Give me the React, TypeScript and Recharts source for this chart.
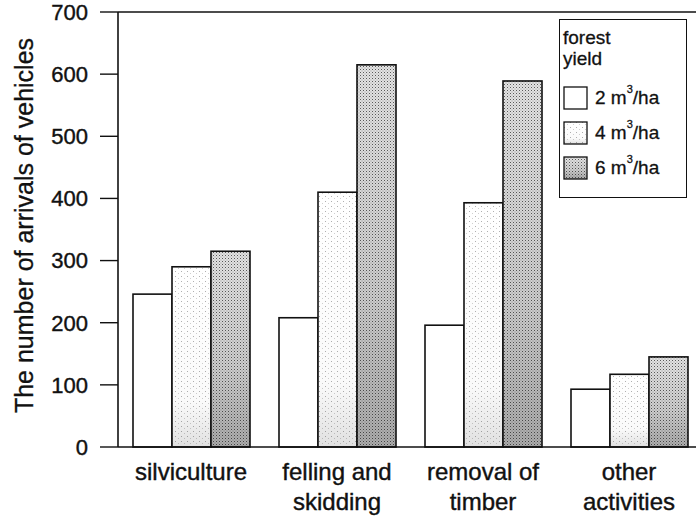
import { BarChart, Bar, XAxis, YAxis, Legend, ReferenceLine } from "recharts";

const CATEGORIES = [
  "silviculture",
  "felling and\nskidding",
  "removal of\ntimber",
  "other\nactivities",
];
const YIELD_2 = [246, 208, 196, 93];
const YIELD_4 = [290, 410, 393, 117];
const YIELD_6 = [315, 615, 589, 145];
const Y_TICKS = [0, 100, 200, 300, 400, 500, 600, 700];

const SERIES = [
  { key: "y2", label: "2", fill: "#ffffff", pattern: "", shade: "" },
  { key: "y4", label: "4", fill: "url(#dotsLight)", pattern: "dotsLight", shade: "shadeLight" },
  { key: "y6", label: "6", fill: "url(#dotsDense)", pattern: "dotsDense", shade: "shadeDark" },
];

const data = CATEGORIES.map((name, i) => ({
  name,
  y2: YIELD_2[i],
  y4: YIELD_4[i],
  y6: YIELD_6[i],
}));

const FONT = "'Liberation Sans', Arial, Helvetica, sans-serif";
const INK = "#111";

const makeShape = (pattern: string, shade: string) => (props: any) => {
  const { x, y, width, height } = props;
  return (
    <g>
      <rect x={x} y={y} width={width} height={height} fill={pattern ? `url(#${pattern})` : "#fff"} />
      {shade && <rect x={x} y={y} width={width} height={height} fill={`url(#${shade})`} />}
      <rect x={x} y={y} width={width} height={height} fill="none" stroke={INK} strokeWidth={1.6} />
    </g>
  );
};

const CatTick = ({ x, y, payload }: any) => {
  const lines = String(payload.value).split("\n");
  return (
    <text
      x={x}
      y={y}
      textAnchor="middle"
      fontSize={24}
      fontFamily={FONT}
      fill={INK}
      stroke={INK}
      strokeWidth={0.4}
    >
      {lines.map((l, i) => (
        <tspan key={i} x={x} dy={i === 0 ? 33 : 30}>
          {l}
        </tspan>
      ))}
    </text>
  );
};

const LegendBox = () => (
  <div
    style={{
      border: `1.5px solid ${INK}`,
      background: "#fff",
      width: 128,
      height: 179,
      boxSizing: "border-box",
      padding: "7px 0 0 3px",
      fontFamily: FONT,
      fontSize: 19,
      color: INK,
      textAlign: "left",
      WebkitTextStroke: "0.3px #111",
    }}
  >
    <div style={{ lineHeight: "21px" }}>forest</div>
    <div style={{ lineHeight: "21px", marginBottom: 11 }}>yield</div>
    {SERIES.map((s) => (
      <div key={s.key} style={{ display: "flex", alignItems: "center", height: 35 }}>
        <svg width={25} height={24} style={{ marginRight: 7 }}>
          <rect x={1} y={1} width={23} height={22} fill={s.pattern ? `url(#${s.pattern})` : "#fff"} />
          {s.shade && <rect x={1} y={1} width={23} height={22} fill={`url(#${s.shade})`} />}
          <rect x={1} y={1} width={23} height={22} fill="none" stroke={INK} strokeWidth={1.3} />
        </svg>
        <span>
          {s.label} m<sup style={{ fontSize: 11, verticalAlign: "top", position: "relative", top: -4 }}>3</sup>/ha
        </span>
      </div>
    ))}
  </div>
);

export default function App() {
  return (
    <div
      style={{
        position: "absolute",
        left: 0,
        top: 0,
        width: 696,
        height: 523,
        overflow: "hidden",
        background: "#fff",
      }}
    >
      <BarChart
        width={710}
        height={523}
        data={data}
        margin={{ top: 12, right: 8, bottom: 0, left: 0 }}
        barCategoryGap={15}
        barGap={0}
      >
        <defs>
          <pattern id="dotsLight" width="6" height="5" patternUnits="userSpaceOnUse">
            <rect width="6" height="5" fill="#ffffff" />
            <rect x="1" y="1" width="1" height="1" fill="#b0b0b0" />
            <rect x="4" y="3" width="1" height="1" fill="#d0d0d0" />
          </pattern>
          <pattern id="dotsDense" width="3" height="3" patternUnits="userSpaceOnUse">
            <rect width="3" height="3" fill="#e4e4e4" />
            <rect x="0" y="0" width="1" height="1" fill="#5a5a5a" />
            <rect x="1.5" y="1.5" width="1" height="1" fill="#999" />
          </pattern>
          <linearGradient id="shadeLight" x1="0" y1="0" x2="0" y2="1">
            <stop offset="0" stopColor="#000" stopOpacity="0" />
            <stop offset="0.75" stopColor="#000" stopOpacity="0.02" />
            <stop offset="1" stopColor="#000" stopOpacity="0.12" />
          </linearGradient>
          <linearGradient id="shadeDark" x1="0" y1="0" x2="0" y2="1">
            <stop offset="0" stopColor="#000" stopOpacity="0" />
            <stop offset="0.6" stopColor="#000" stopOpacity="0.1" />
            <stop offset="1" stopColor="#000" stopOpacity="0.25" />
          </linearGradient>
        </defs>
        <XAxis
          dataKey="name"
          interval={0}
          tickLine={false}
          tickSize={0}
          tickMargin={0}
          axisLine={{ stroke: INK, strokeWidth: 1.6 }}
          tick={<CatTick />}
          height={76}
        />
        <YAxis
          width={118}
          domain={[0, 700]}
          ticks={Y_TICKS}
          interval={0}
          tickSize={18}
          tickMargin={12}
          axisLine={{ stroke: INK, strokeWidth: 1.6 }}
          tickLine={{ stroke: INK, strokeWidth: 1.4 }}
          tick={{ fontSize: 22, fontFamily: FONT, fill: INK, stroke: INK, strokeWidth: 0.4 }}
          label={{
            content: ({ viewBox }: any) => {
              const cx = viewBox.x + 24;
              const cy = viewBox.y + viewBox.height / 2 - 4;
              return (
                <text
                  x={cx}
                  y={cy}
                  transform={`rotate(-90 ${cx} ${cy})`}
                  textAnchor="middle"
                  dominantBaseline="central"
                  fontSize={25}
                  fontFamily={FONT}
                  fill={INK}
                  stroke={INK}
                  strokeWidth={0.3}
                >
                  The number of arrivals of vehicles
                </text>
              );
            },
          }}
        />
        <ReferenceLine y={700} stroke={INK} strokeWidth={1.4} />
        {SERIES.map((s) => (
          <Bar
            key={s.key}
            dataKey={s.key}
            name={`${s.label} m3/ha`}
            fill={s.fill}
            isAnimationActive={false}
            shape={makeShape(s.pattern, s.shade)}
          />
        ))}
        <Legend
          layout="vertical"
          align="center"
          verticalAlign="middle"
          wrapperStyle={{ top: 19, left: 559, width: 128, height: 179 }}
          content={() => <LegendBox />}
        />
      </BarChart>
    </div>
  );
}
